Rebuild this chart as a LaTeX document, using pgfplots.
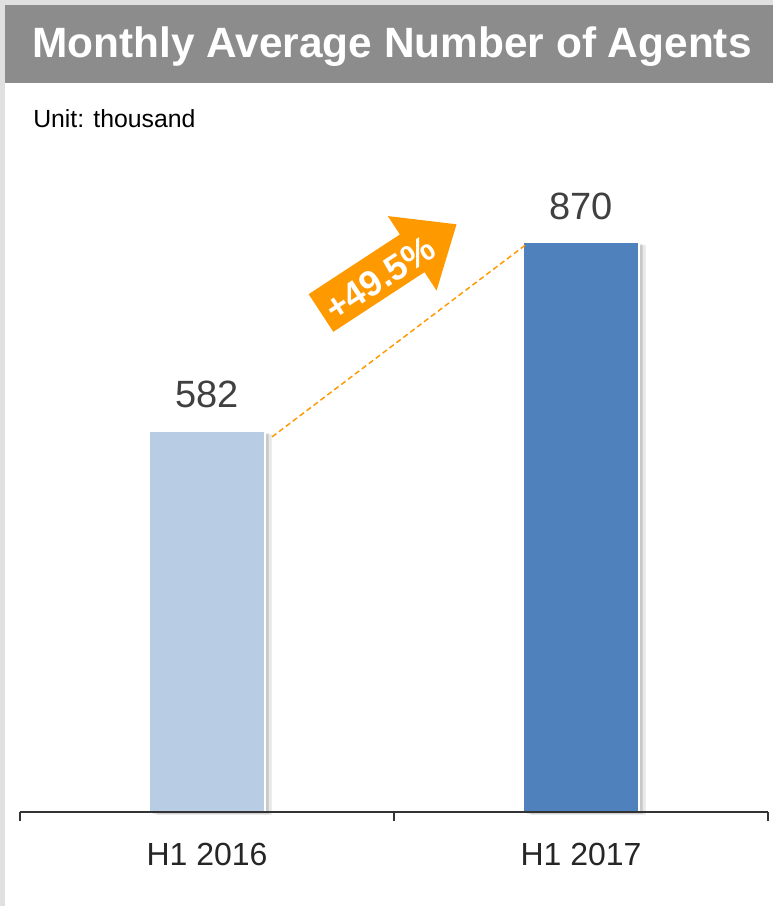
\documentclass[border=0pt]{standalone}
\usepackage{pgfplots}
\pgfplotsset{compat=1.18}
\usepackage{fontspec}
\setmainfont{Liberation Sans}
\usetikzlibrary{shadows}
\definecolor{titlegray}{RGB}{140,140,140}
\definecolor{framegray}{RGB}{224,224,224}
\definecolor{lightbar}{RGB}{184,204,228}
\definecolor{darkbar}{RGB}{79,129,189}
\definecolor{arroworange}{RGB}{255,153,0}
\definecolor{txtgray}{RGB}{64,64,64}

\begin{document}
\begin{tikzpicture}
% page in pixel units (1px = 0.75pt)
\begin{scope}[x=0.75pt,y=0.75pt]
\useasboundingbox (0,0) rectangle (773,906);
\fill[white] (0,0) rectangle (773,906);
\fill[framegray] (0,0) rectangle (5,906);
\fill[framegray] (0,901) rectangle (773,906);
\fill[titlegray] (5,823) rectangle (773,901);
\node[anchor=base, inner sep=0pt, text=white, font=\bfseries\fontsize{31.8}{36}\selectfont]
  at (392,848) {Monthly Average Number of Agents};
\node[anchor=base west, inner sep=0pt, font=\fontsize{18.6}{22}\selectfont]
  at (33,778) {Unit: thousand};
\end{scope}

\begin{axis}[
  at={(15pt,70.5pt)}, anchor=south west,
  scale only axis, width=561pt, height=491pt,
  xmin=-0.5, xmax=1.5, ymin=0, ymax=1000,
  axis x line=bottom, hide y axis,
  axis line style={-, line width=1pt, black!80},
  axis on top, clip=false,
  xtick={0,1}, xticklabels={H1 2016, H1 2017},
  major tick length=0pt,
  minor xtick={-0.5,0.5,1.5}, minor tick length=6.75pt,
  xtick align=outside,
  tick style={line width=1pt, black!80},
  xticklabel style={inner sep=0pt, yshift=-23pt,
    font=\fontsize{24}{28}\selectfont, text=black!85},
  ybar, bar width=87pt,
  nodes near coords,
  /pgf/number format/assume math mode=true,
  nodes near coords style={anchor=south, inner sep=0pt, yshift=16.5pt,
    font=\fontsize{28.5}{32}\selectfont, text=txtgray},
]
\addplot[fill=lightbar, draw=white, line width=1.5pt, bar shift=0pt,
  drop shadow={shadow xshift=3pt, shadow yshift=-1.5pt, opacity=0.3},
  drop shadow={shadow xshift=5.5pt, shadow yshift=-2pt, opacity=0.18}]
  coordinates {(0,582)};
\addplot[fill=darkbar, draw=white, line width=1.5pt, bar shift=0pt,
  drop shadow={shadow xshift=3pt, shadow yshift=-1.5pt, opacity=0.3},
  drop shadow={shadow xshift=5.5pt, shadow yshift=-2pt, opacity=0.18}]
  coordinates {(1,870)};
\draw[arroworange, line width=1.1pt, dash pattern=on 4pt off 2.5pt]
  (axis cs:0.174,573) -- (axis cs:0.856,868);
\end{axis}

\begin{scope}[x=0.75pt,y=0.75pt]
\begin{scope}[shift={(321,593)}, rotate=33.2]
\fill[arroworange] (0,-22.5) -- (109,-22.5) -- (109,-44.5) -- (162,0)
  -- (109,44.5) -- (109,22.5) -- (0,22.5) -- cycle;
\end{scope}
\node[rotate=33.2, inner sep=0pt, text=white, font=\bfseries\fontsize{27}{30}\selectfont]
  at (380,628) {+49.5\%};
\end{scope}
\end{tikzpicture}
\end{document}
